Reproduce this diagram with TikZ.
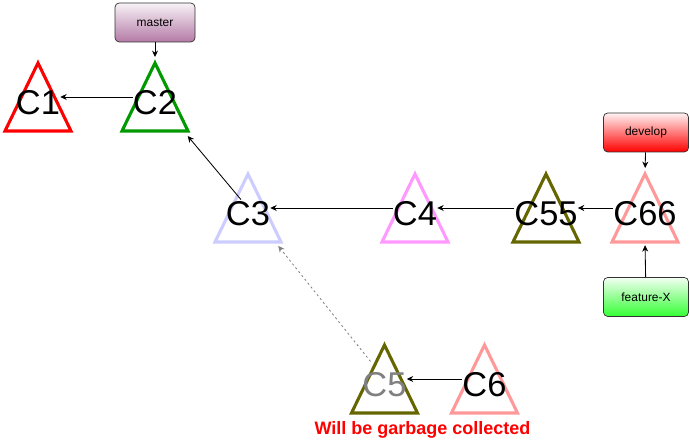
\documentclass[tikz,border=0pt]{standalone}
\usepackage{fontspec}
\setmainfont{Liberation Sans}
\usetikzlibrary{arrows.meta,calc,backgrounds}
\definecolor{Leaf}{HTML}{009900}
\definecolor{Lav}{HTML}{CCCCFF}
\definecolor{Pinky}{HTML}{FF99FF}
\definecolor{Olive}{HTML}{666600}
\definecolor{Salmon}{HTML}{FF9999}
\definecolor{Plum}{HTML}{B47AA6}

\begin{document}
\begin{tikzpicture}[
    commit/.style={inner sep=0pt,text height=24.6pt,text depth=0pt,
      font=\fontsize{24.5}{28}\selectfont},
    tri/.style={line width=2.2pt,line join=miter},
    ref/.style={rounded corners=3pt,draw=black!80,line width=0.5pt,
      minimum width=2cm,minimum height=0.975cm,
      font=\fontsize{8.5}{10}\selectfont},
    arr/.style={-{Stealth[length=1.6mm,width=1.5mm]},line width=0.6pt}
  ]
    \useasboundingbox (0,0) rectangle (17.25,11.125);
    % commits
    \node[commit] (c1) at (0.95,8.7) {C1};
    \node[commit] (c2) at (3.875,8.7) {C2};
    \node[commit] (c3) at (6.2,5.925) {C3};
    \node[commit] (c4) at (10.375,5.925) {C4};
    \node[commit] (c55) at (13.65,5.925) {C55};
    \node[commit] (c66) at (16.125,5.925) {C66};
    \node[commit,text=gray] (c5) at (9.6125,1.65) {C5};
    \node[commit] (c6) at (12.1125,1.65) {C6};
    \begin{scope}[on background layer]
      \foreach \n/\col in {c1/red,c2/Leaf,c3/Lav,c4/Pinky,c55/Olive,
          c66/Salmon,c5/Olive,c6/Salmon}
        \draw[tri,draw=\col] ($(\n)+(0,0.85)$)
          -- ($(\n)+(0.825,-0.85)$) -- ($(\n)+(-0.825,-0.85)$) -- cycle;
    \end{scope}
    \coordinate (c2 top) at ($(c2)+(0,0.85)$);
    \coordinate (c66 top) at ($(c66)+(0,0.85)$);
    \coordinate (c66 base) at ($(c66)+(0,-0.85)$);

    % branch refs
    \node[ref,top color=Plum!10,bottom color=Plum] (master)
      at (3.875,10.5625) {master};
    \node[ref,minimum width=2.125cm,top color=red!5,bottom color=red]
      (develop) at (16.15,7.8125) {develop};
    \node[ref,minimum width=2.125cm,top color=green!5,
      bottom color=green!80!white] (featx) at (16.15,3.7) {feature-X};

    \foreach \a/\b in {c2/c1,c4/c3,c55/c4,c66/c55,c6/c5}
      \draw[arr] (\a)--(\b);
    \draw[arr,shorten <=-0.3cm,shorten >=0.7cm] (c3)--(c2);
    \draw[arr,gray,dash pattern=on 1.5pt off 2pt,shorten >=0.65cm] (c5)--(c3);
    \draw[arr,shorten >=0.15cm] (master)--(c2 top);
    \draw[arr,shorten >=0.15cm] (develop)--(c66 top);
    \draw[arr,shorten >=0.08cm] (featx)--(c66 base);

    \node[font=\fontsize{12.8}{15}\selectfont\bfseries,text=red] (gc)
      at (10.5625,0.375) {Will be garbage collected};
  \end{tikzpicture}
\end{document}
